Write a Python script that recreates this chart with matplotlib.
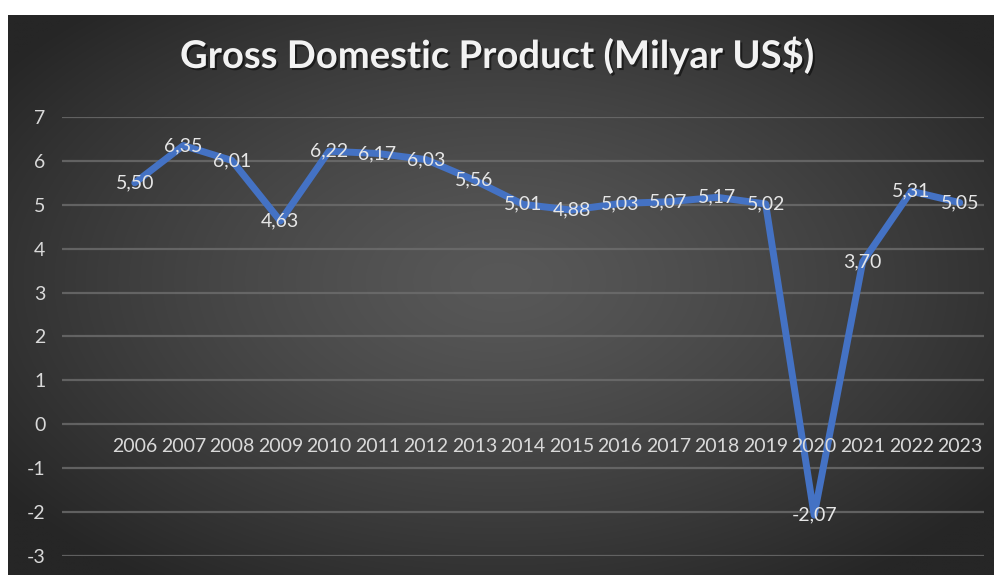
import matplotlib.pyplot as plt
import matplotlib.patheffects as pe
import numpy as np

# Veriler
years = ['2006', '2007', '2008', '2009', '2010', '2011', '2012', '2013', '2014',
         '2015', '2016', '2017', '2018', '2019', '2020', '2021', '2022', '2023']
gdp = [5.50, 6.35, 6.01, 4.63, 6.22, 6.17, 6.03, 5.56, 5.01,
       4.88, 5.03, 5.07, 5.17, 5.02, -2.07, 3.70, 5.31, 5.05]
yticks = [-3, -2, -1, 0, 1, 2, 3, 4, 5, 6, 7]

W, H = 995, 575
fig = plt.figure(figsize=(W / 100, H / 100), dpi=100)
fig.patch.set_facecolor('white')

# Arka plan: radyal gradyan
bg = fig.add_axes([8 / W, 0, 1 - 8 / W, (H - 15) / H])
bg.set_axis_off()
gx, gy = np.meshgrid(np.linspace(-1, 1, 400), np.linspace(-1, 1, 240))
r = np.sqrt((gx / 1.0) ** 2 + ((gy + 0.05) / 1.05) ** 2)
r = np.clip(r / 1.25, 0, 1)
val = 88 - 50 * r ** 1.3
img = np.dstack([val, val, val]) / 255.0
bg.imshow(img, aspect='auto', extent=(0, 1, 0, 1), interpolation='bilinear')
bg.set_xlim(0, 1)
bg.set_ylim(0, 1)

shadow = [pe.withSimplePatchShadow(offset=(1, -1), shadow_rgbFace='black',
                                   alpha=0.35)]

# Ana grafik
ax = fig.add_axes([62 / W, (H - 556) / H, (984 - 62) / W, (556 - 117) / H])
ax.patch.set_alpha(0)
x = np.arange(len(years))
ax.plot(x, gdp, color='#4472C4', linewidth=5, solid_joinstyle='round',
        solid_capstyle='round', zorder=3)

ax.set_xlim(-1.5, 17.5)
ax.set_ylim(-3, 7)
ax.set_yticks(yticks)
ax.set_yticklabels([str(t) for t in yticks], fontsize=14, color='#d9d9d9',
                   family='Lato')
ax.tick_params(axis='y', length=0, pad=12)
ax.set_xticks([])
ax.grid(axis='y', color='#6e6e6e', linewidth=1.6, alpha=0.8)
ax.set_axisbelow(True)
for s in ax.spines.values():
    s.set_visible(False)

# Kategori etiketleri (0 ekseni altında)
for i, yr in enumerate(years):
    ax.annotate(yr, (i, 0), xytext=(0, -16), textcoords='offset points',
                ha='center', va='center', fontsize=14, color='#d9d9d9',
                family='Lato', zorder=4)

# Veri etiketleri
for i, v in enumerate(gdp):
    lbl = f'{v:.2f}'.replace('.', ',')
    ax.text(i, v, lbl, ha='center', va='center', fontsize=14,
            color='#e6e6e6', family='Lato', zorder=5)

# Başlık
fig.text(0.5, 1 - 55 / H, 'Gross Domestic Product (Milyar US$)',
         ha='center', va='center', fontsize=27.5, fontweight='bold',
         color='#f2f2f2', family='Lato',
         path_effects=[pe.withSimplePatchShadow(offset=(1.5, -1.5),
                                                shadow_rgbFace='black',
                                                alpha=0.5)])

fig.savefig('out.png', dpi=100)
